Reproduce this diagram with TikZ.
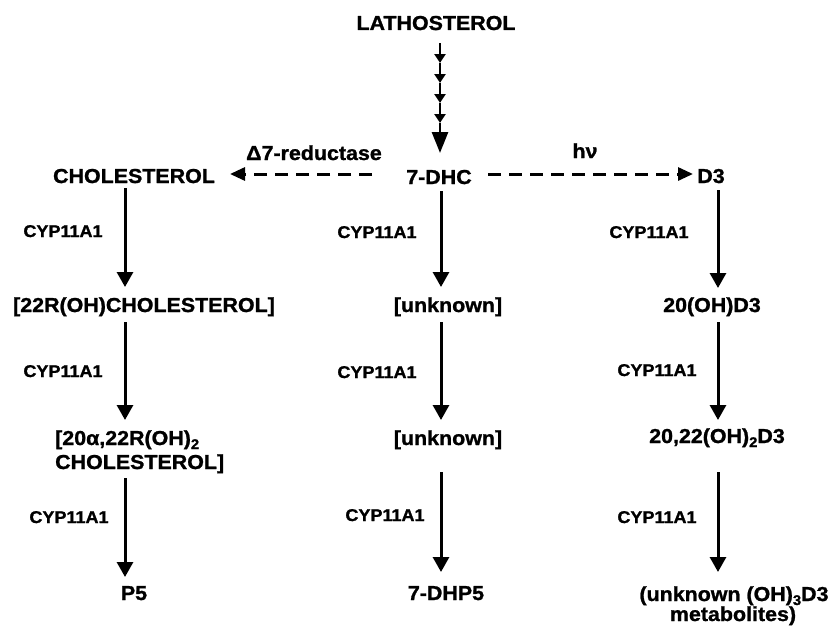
\documentclass[tikz,border=0pt]{standalone}
\usepackage{fontspec}
\setmainfont{Liberation Sans}[FakeStretch=1.06, BoldFeatures={FakeBold=1.2}]
\usetikzlibrary{arrows.meta}
\newcommand\mainf{\fontsize{20.2}{24}\selectfont\bfseries}
\newcommand\cypf{\fontsize{17}{20}\selectfont\bfseries}
\newcommand\sbs[1]{\raisebox{-4pt}{\fontsize{14}{14}\selectfont #1}}
\tikzset{
  lbl/.style={font=\mainf, inner sep=0pt, anchor=base},
  cyp/.style={font=\cypf, inner sep=0pt, anchor=base},
  arr/.style={line width=3pt, -{Triangle[width=16pt,length=15pt]}},
  darr/.style={line width=3pt, dash pattern=on 13pt off 8pt, -{Triangle[width=13pt,length=15pt]}},
  small/.style={line width=2.6pt, -{Triangle[width=11pt,length=9pt]}},
  big/.style={line width=2.6pt, -{Triangle[width=16pt,length=21pt]}},
}
\begin{document}
\begin{tikzpicture}[x=1pt,y=-1pt]
\useasboundingbox (0,0) rectangle (831,629);
% column coordinates
\coordinate (xL) at (125,0);
\coordinate (xM) at (441,0);
\coordinate (xR) at (718,0);
\coordinate (xC) at (440,0);
% main nodes
\node[lbl] (lath) at (436,30) {LATHOSTEROL};
\node[lbl] (chol) at (134,183) {CHOLESTEROL};
\node[lbl] (dhc)  at (439,184) {7-DHC};
\node[lbl] (d3)   at (711,183) {D3};
\node[lbl] (red)  at (314,160) {Δ7-reductase};
\node[lbl] (hv)   at (585,158) {hν};
\node[lbl] (r22)  at (144,312) {[22R(OH)CHOLESTEROL]};
\node[lbl] (unkA) at (448,312) {[unknown]};
\node[lbl] (oh20) at (712,312) {20(OH)D3};
\node[lbl,anchor=base west] (dia)  at (55,445) {[20α,22R(OH)\sbs{2}};
\node[lbl,anchor=base west] (diab) at (55,469) {CHOLESTEROL]};
\node[lbl] (unkB) at (448,445) {[unknown]};
\node[lbl] (oh2022) at (717,443) {20,22(OH)\sbs{2}D3};
\node[lbl] (p5)   at (134,600) {P5};
\node[lbl] (dhp5) at (446,600) {7-DHP5};
\node[lbl] (met)  at (734,601) {(unknown (OH)\sbs{3}D3};
\node[lbl] (metb) at (733,621) {metabolites)};
% chain of small arrows
\coordinate (c0) at (440,43);
\coordinate (c1) at (440,63);
\coordinate (c2) at (440,83);
\coordinate (c3) at (440,103);
\coordinate (c4) at (440,123);
\draw[small] (c0) -- (c1);
\draw[small] (c1) -- (c2);
\draw[small] (c2) -- (c3);
\draw[small] (c3) -- (c4);
\draw[big] (c4) -- ([yshift=31pt]dhc.base -| xC);
% dashed arrows
\draw[darr] ([xshift=-67pt,yshift=10pt]dhc.base) -- ([xshift=96pt,yshift=9pt]chol.base);
\draw[darr] ([xshift=49pt,yshift=10pt]dhc.base) -- ([xshift=-18pt,yshift=9pt]d3.base);
% left column
\draw[arr] ([yshift=-5pt]chol.base -| xL) -- ([yshift=25pt]r22.base -| xL);
\draw[arr] ([yshift=-10pt]r22.base -| xL) -- ([yshift=25pt]dia.base -| xL);
\draw[arr] ([yshift=-9pt]diab.base -| xL) -- ([yshift=23pt]p5.base -| xL);
% middle column
\draw[arr] ([yshift=-7pt]dhc.base -| xM) -- ([yshift=25pt]unkA.base -| xM);
\draw[arr] ([yshift=-10pt]unkA.base -| xM) -- ([yshift=25pt]unkB.base -| xM);
\draw[arr] ([yshift=-27pt]unkB.base -| xM) -- ([yshift=28pt]dhp5.base -| xM);
% right column
\draw[arr] ([yshift=-7pt]d3.base -| xR) -- ([yshift=24pt]oh20.base -| xR);
\draw[arr] ([yshift=-10pt]oh20.base -| xR) -- ([yshift=23pt]oh2022.base -| xR);
\draw[arr] ([yshift=-29pt]oh2022.base -| xR) -- ([yshift=29pt]met.base -| xR);
% enzyme labels
\node[cyp] (eL1) at (63,237) {CYP11A1};
\node[cyp] (eL2) at (63,377) {CYP11A1};
\node[cyp] (eL3) at (69,523) {CYP11A1};
\node[cyp] (eM1) at (377,238) {CYP11A1};
\node[cyp] (eM2) at (377,378) {CYP11A1};
\node[cyp] (eM3) at (385,521) {CYP11A1};
\node[cyp] (eR1) at (649,238) {CYP11A1};
\node[cyp] (eR2) at (657,376) {CYP11A1};
\node[cyp] (eR3) at (657,523) {CYP11A1};
\end{tikzpicture}
\end{document}
